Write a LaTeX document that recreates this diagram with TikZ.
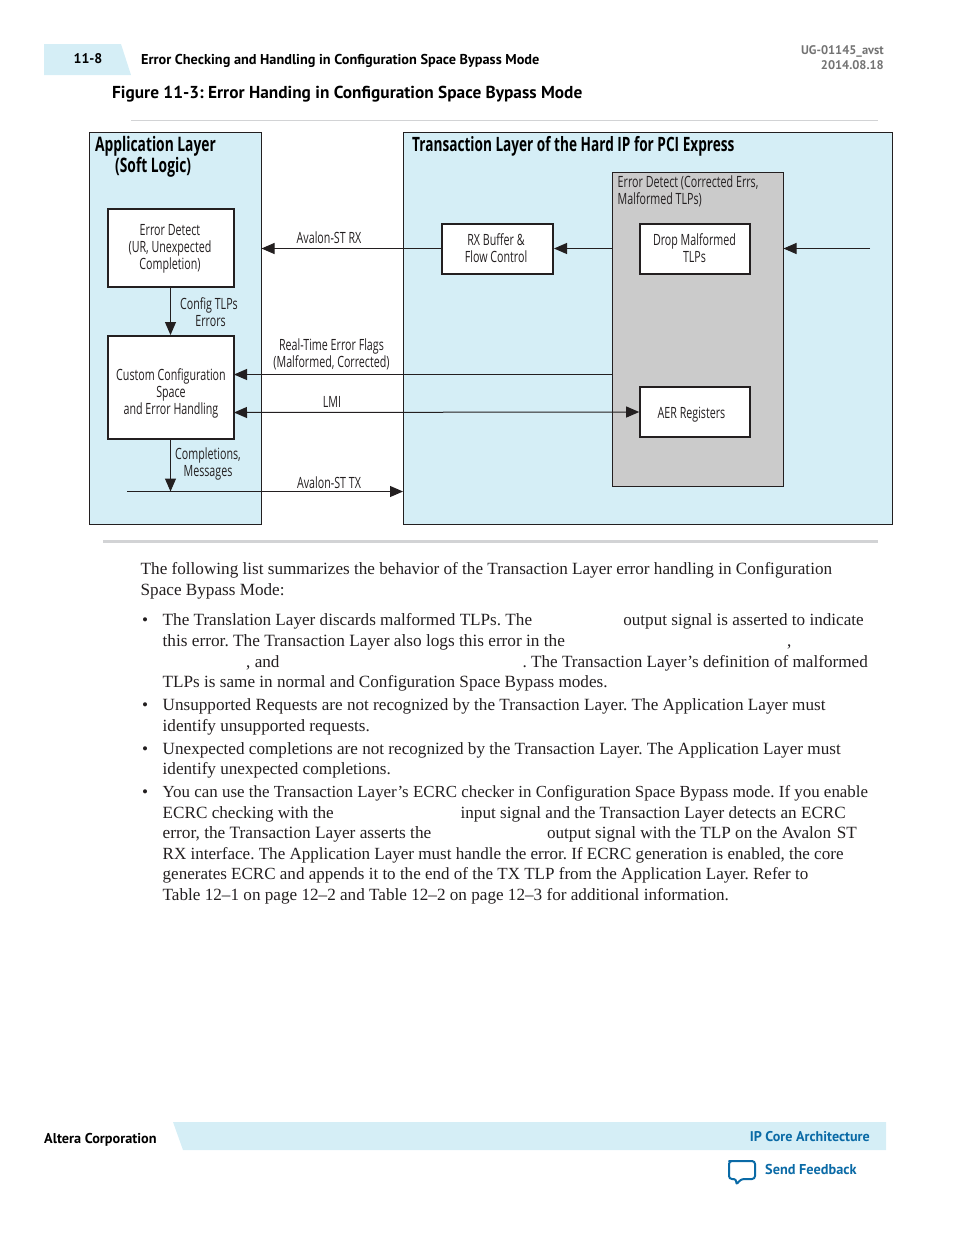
\documentclass[tikz,border=0pt]{standalone}
\usepackage{fontspec}
\usetikzlibrary{arrows.meta}
\setmainfont{Liberation Serif}
\newfontfamily\cond[FakeStretch=0.69]{Open Sans}
\newfontfamily\condb[FakeStretch=0.69]{Open Sans}
\newfontfamily\hdr{PT Sans}
\frenchspacing
\definecolor{pale}{HTML}{D5EEF6}
\definecolor{blk}{HTML}{231F20}
\definecolor{grayfill}{HTML}{CBCBCB}
\definecolor{rulegray}{HTML}{D2D3D5}
\definecolor{altblue}{HTML}{0A6AA6}
\tikzset{
  x=1pt,y=-1pt,
  layerbox/.style={draw=blk,fill=pale,line width=1pt},
  graybox/.style={draw=blk,fill=grayfill,line width=1pt},
  whitebox/.style={draw=blk,fill=white,line width=2pt},
  lab/.style={font=\cond\fontsize{15.5}{17}\selectfont,text=blk,align=center,inner sep=0pt},
  ttl/.style={font=\condb\bfseries\fontsize{#1}{21}\selectfont,text=black,inner sep=0pt,anchor=base west},
  conn/.style={draw=blk,line width=1pt,-{Triangle[length=13pt,width=11pt]}},
  dconn/.style={draw=blk,line width=1pt,{Triangle[length=13pt,width=11pt]}-{Triangle[length=13pt,width=11pt]}},
  bodyl/.style={font=\fontsize{17.15}{20}\selectfont,text=blk,inner sep=0pt,anchor=base west},
  bodyfit/.style={bodyl,font=\fontsize{#1}{20}\selectfont},
  semib/.style={font=\hdr\bfseries\fontsize{#1}{16}\selectfont,inner sep=0pt},
}
\begin{document}
\begin{tikzpicture}
\useasboundingbox (0,0) rectangle (954,1235);
% page header
\fill[pale] (44,44) -- (121,44) -- (131,75) -- (44,75) -- cycle;
\node[semib=14,anchor=base] (pg) at (88,63.5) {11-8};
\node[semib=14.28,anchor=base west] (sec) at (141,64) {Error Checking and Handling in Configuration Space Bypass Mode};
\node[semib=12.5,text=black!55,anchor=base east] (doc) at (884,54) {UG-01145\_avst};
\node[semib=12.5,text=black!55,anchor=base east] (date) at (884,69) {2014.08.18};
\node[semib=17.3,anchor=base west] (fig) at (112,98) {Figure 11-3: Error Handing in Configuration Space Bypass Mode};
\draw[rulegray,line width=1pt] (131,120.5) -- (878,120.5);
% diagram containers
\draw[layerbox] (89.5,132.5) rectangle (261.5,524.5);
\draw[layerbox] (403.5,132.5) rectangle (892.5,524.5);
\draw[graybox] (612.5,172.5) rectangle (783.5,486.5);
\coordinate (appE) at (261.5,248.5);
\coordinate (grayW) at (612.5,248.5);
\coordinate (grayE) at (783.5,248.5);
\coordinate (inR) at (870,248.5);
\coordinate (rtfS) at (612.5,374.5);
\coordinate (rtfT) at (234,374.5);
\coordinate (lmiL) at (234,412.5);
\coordinate (txS) at (127,491.5);
\coordinate (txT) at (403,491.5);
\coordinate (txM) at (170.5,491.5);
\node[ttl=20] (t1) at (95,151) {Application Layer};
\node[ttl=20] (t2) at (115,172) {(Soft Logic)};
\node[ttl=19.75] (t3) at (412,151) {Transaction Layer of the Hard IP for PCI Express};
\node[lab,anchor=base west] (g1) at (617.5,187) {Error Detect (Corrected Errs,};
\node[lab,anchor=base west] (g2) at (617.5,204) {Malformed TLPs)};
% boxes
\node[whitebox,minimum width=126pt,minimum height=78pt] (ed) at (171,248) {};
\node[whitebox,minimum width=126pt,minimum height=103pt] (cc) at (171,387.5) {};
\node[whitebox,minimum width=111pt,minimum height=50pt] (rx) at (497.5,248.5) {};
\node[whitebox,minimum width=110pt,minimum height=50pt] (dm) at (695.2,248.5) {};
\node[whitebox,minimum width=110pt,minimum height=50pt] (aer) at (695.2,412) {};
\node[lab] (edt) at (170,248.5) {Error Detect\\(UR, Unexpected\\Completion)};
\node[lab] (cct) at (171,393.5) {Custom Configuration\\Space\\and Error Handling};
\node[lab] (rxt) at (496,248) {RX Buffer \&\\Flow Control};
\node[lab] (dmt) at (694.5,248) {Drop Malformed\\TLPs};
\node[lab] (aert) at (691.5,414.5) {AER Registers};
% connectors
\draw[conn] (rx.west) -- (appE);
\draw[conn] (grayW) -- (rx.east);
\draw[conn] (inR) -- (grayE);
\draw[conn] (rtfS) -- (rtfT);
\draw[dconn] (lmiL) -- (aer.west);
\draw[conn] (txS) -- (txT);
\draw[conn] (ed.south -| txM) -- (cc.north -| txM);
\draw[conn] (cc.south -| txM) -- (txM);
% labels
\node[lab] (l1) at (329,238) {Avalon-ST RX};
\node[lab,anchor=base east] (l2) at (238,309) {Config TLPs};
\node[lab,anchor=base east] (l3) at (226,326) {Errors};
\node[lab] (l4) at (331.5,354.5) {Real-Time Error Flags\hspace{6pt}\\(Malformed, Corrected)};
\node[lab] (l5) at (332,402) {LMI};
\node[lab] (l6) at (208,463.5) {Completions,\\Messages};
\node[lab] (l7) at (329,483) {Avalon-ST TX};
\draw[rulegray,line width=3pt] (103,541.5) -- (878,541.5);
% body text
\node[bodyl] (b1) at (140.5,574) {The following list summarizes the behavior of the Transaction Layer error handling in Configuration};
\node[bodyl] (b2) at (140.5,595) {Space Bypass Mode:};
\node[bodyl] (d1) at (142,625) {•};
\node[bodyl] (b3) at (162.5,625) {The Translation Layer discards malformed TLPs. The};
\node[bodyl,anchor=base east] (b3b) at (864,625) {output signal is asserted to indicate};
\node[bodyfit=17.25] (b4) at (162.5,646) {this error. The Transaction Layer also logs this error in the};
\node[bodyl] (b4b) at (787,646) {,};
\node[bodyl] (b5) at (246,667) {, and};
\node[bodyl,anchor=base east] (b5b) at (868,667) {. The Transaction Layer’s definition of malformed};
\node[bodyl] (b6) at (162.5,687) {TLPs is same in normal and Configuration Space Bypass modes.};
\node[bodyl] (d2) at (142,710) {•};
\node[bodyl] (b7) at (162.5,710) {Unsupported Requests are not recognized by the Transaction Layer. The Application Layer must};
\node[bodyl] (b8) at (162.5,731) {identify unsupported requests.};
\node[bodyl] (d3) at (142,754) {•};
\node[bodyl] (b9) at (162.5,754) {Unexpected completions are not recognized by the Transaction Layer. The Application Layer must};
\node[bodyl] (b10) at (162.5,774) {identify unexpected completions.};
\node[bodyl] (d4) at (142,797) {•};
\node[bodyfit=16.93] (b11) at (162.5,797) {You can use the Transaction Layer’s ECRC checker in Configuration Space Bypass mode. If you enable};
\node[bodyl] (b12) at (162.5,818) {ECRC checking with the};
\node[bodyl,anchor=base east] (b12b) at (846,818) {input signal and the Transaction Layer detects an ECRC};
\node[bodyfit=17.3] (b13) at (162.5,838) {error, the Transaction Layer asserts the};
\node[bodyl,anchor=base east] (b13b) at (857,838) {output signal with the TLP on the Avalon\,\,ST};
\node[bodyfit=17.05] (b14) at (162.5,859) {RX interface. The Application Layer must handle the error. If ECRC generation is enabled, the core};
\node[bodyfit=17.02] (b15) at (162.5,879) {generates ECRC and appends it to the end of the TX TLP from the Application Layer. Refer to};
\node[bodyl] (b16) at (162.5,900) {Table 12–1 on page 12–2 and Table 12–2 on page 12–3 for additional information.};
% footer
\fill[pale] (173,1122) -- (886,1122) -- (886,1150) -- (183,1150) -- cycle;
\node[semib=14.25,anchor=base west] (alt) at (44,1143) {Altera Corporation};
\node[semib=14.1,text=altblue,anchor=base east] (ipc) at (870,1141) {IP Core Architecture};
\node[semib=14.3,text=altblue,anchor=base west] (sf) at (765,1174) {Send Feedback};
\draw[altblue,line width=2pt,line join=round,rounded corners=3pt] (732,1161) -- (755,1161) -- (755,1179) -- (741,1179) -- (736,1185) -- (736.5,1179) -- (729,1179) -- (729,1161) -- cycle;
\end{tikzpicture}
\end{document}
